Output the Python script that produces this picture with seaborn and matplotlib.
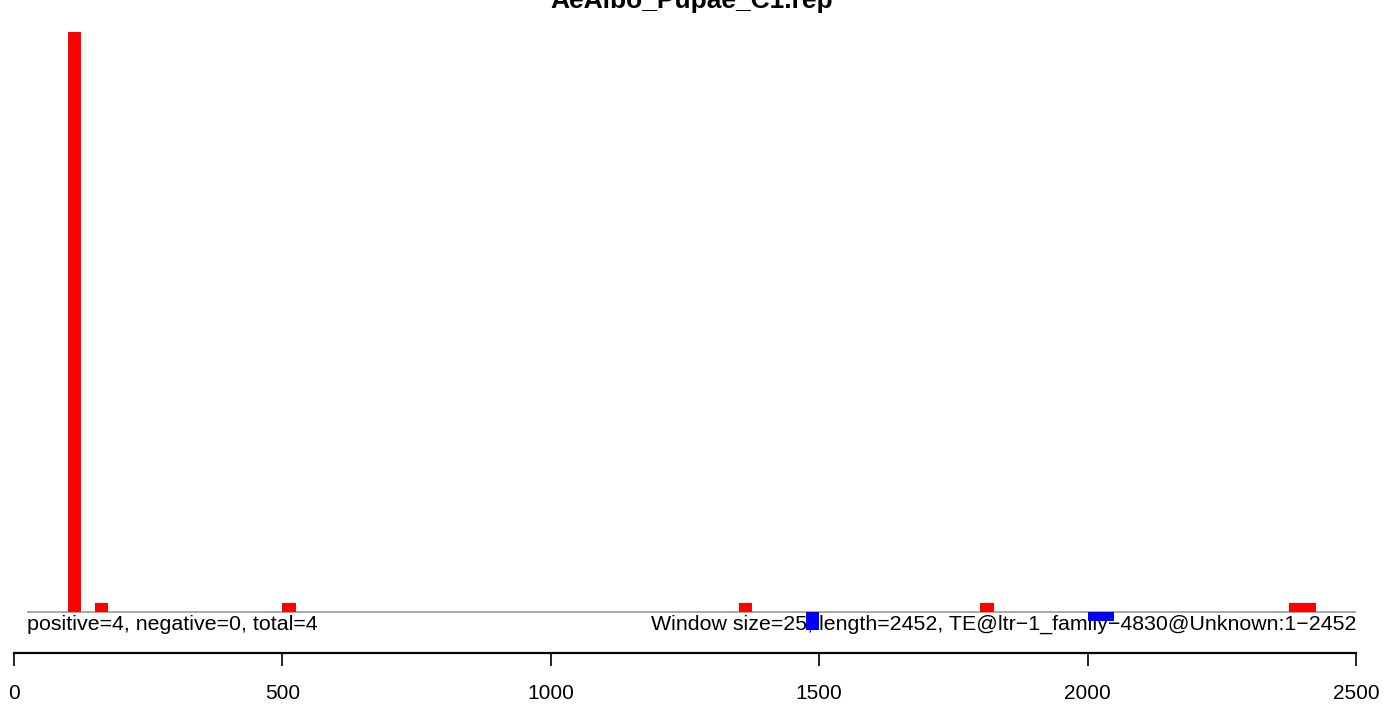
import pandas as pd
import numpy as np
import matplotlib
matplotlib.use('Agg')
import matplotlib.pyplot as plt
import seaborn as sns

# 数据: 窗口起点与计数 (窗口大小 25)
window = 25
seq_len = 2452
pos_start = [100, 150, 500, 1350, 1800, 2375, 2400]
pos_count = [64, 1, 1, 1, 1, 1, 1]
neg_start = [1475, 2000, 2025]
neg_count = [-2, -1, -1]
x_ticks = [0, 500, 1000, 1500, 2000, 2500]
title = 'AeAlbo_Pupae_C1.rep'
left_note = 'positive=4, negative=0, total=4'
right_note = 'Window size=25, length=2452, TE@ltr\u22121_family\u22124830@Unknown:1\u22122452'

sns.set_style('white')
plt.rcParams['font.family'] = ['Liberation Sans', 'DejaVu Sans']
plt.rcParams['text.color'] = 'black'
plt.rcParams['xtick.color'] = 'black'

df = pd.DataFrame({
    'start': pos_start + neg_start,
    'count': pos_count + neg_count,
    'strand': ['+'] * len(pos_start) + ['-'] * len(neg_start),
})
df['mid'] = df['start'] + window / 2

W, H = 1396, 704
fig = plt.figure(figsize=(W / 100, H / 100), dpi=100)
# 坐标轴位置 (像素换算)
ax = fig.add_axes([14 / W, (H - 653) / H, 1342 / W, 633 / H])

sns.barplot(data=df, x='mid', y='count', hue='strand',
            palette={'+': '#ff0000', '-': '#0000ff'},
            native_scale=True, width=1, dodge=False, errorbar=None,
            legend=False, linewidth=0, saturation=1, ax=ax, zorder=3)

ax.set_xlim(0, 2500)
px = 580 / 64
ax.set_ylim(-(653 - 612) / px, (612 - 20) / px)
ax.hlines(0, window, 2500, color='#999999', lw=1.2, zorder=2)

ax.text(window, -0.35, left_note, ha='left', va='top', fontsize=15.4,
        color='black', zorder=1)
ax.text(2500, -0.35, right_note, ha='right', va='top', fontsize=15.4,
        color='black', zorder=1)

for s in ['top', 'right', 'left']:
    ax.spines[s].set_visible(False)
ax.spines['bottom'].set_linewidth(1.6)
ax.spines['bottom'].set_color('black')
ax.set_xticks(x_ticks)
ax.set_xticklabels([str(t) for t in x_ticks], fontsize=15, color='black')
ax.tick_params(axis='x', direction='out', length=9.5, width=1.2, pad=13,
               bottom=True, colors='black')
ax.set_yticks([])
ax.set_xlabel('')
ax.set_ylabel('')

fig.text(692 / W, (H - 8) / H, title, ha='center', va='baseline',
         fontsize=19, fontweight='bold', color='black')

fig.savefig('out.png', dpi=100)
